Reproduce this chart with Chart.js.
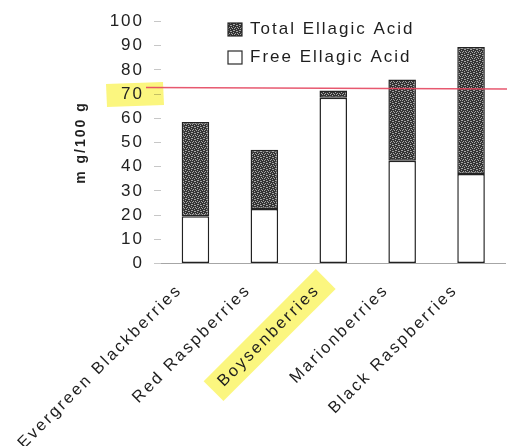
<!DOCTYPE html>
<html>
<head>
<meta charset="utf-8">
<script src="https://cdn.jsdelivr.net/npm/chart.js@4"></script>
<style>
  html, body { margin: 0; padding: 0; background: #fff; }
  #wrap { width: 507px; height: 446px; }
</style>
</head>
<body>
<div id="wrap"><canvas id="c"></canvas></div>
<script>
// Ellagic acid content of Pacific Northwest berries (mg per 100 g)
const berries = ['Evergreen Blackberries', 'Red Raspberries', 'Boysenberries', 'Marionberries', 'Black Raspberries'];
const totalEllagic = [58.5, 47, 71.5, 76, 89.5];
const freeEllagic = [19.5, 22.5, 68.5, 42.5, 37];
const yTickValues = [0, 10, 20, 30, 40, 50, 60, 70, 80, 90, 100];
const seriesNames = ['Total Ellagic Acid', 'Free Ellagic Acid'];
const axisTitle = 'm g/100 g';
const markedTick = 70;
const markedBerry = 'Boysenberries';
const referenceLevel = 72.5;

// bound part of the acid = total minus free, stacked on top of the free part
const boundEllagic = totalEllagic.map((t, i) => t - freeEllagic[i]);

const FONT = "'Liberation Sans', Arial, sans-serif";
const HIGHLIGHT = 'rgba(250, 244, 95, 0.8)';
const LABEL_FONT = '16.5px ' + FONT;
const LABEL_SPACING = '2.4px';
const canvas = document.getElementById('c');

function speckle(ctx) {
  const c = document.createElement('canvas');
  c.width = 6; c.height = 6;
  const g = c.getContext('2d');
  g.fillStyle = '#343434';
  g.fillRect(0, 0, 6, 6);
  g.fillStyle = '#a6a6a6';
  [[0, 0], [3, 1], [1, 3], [4, 4], [5, 2], [2, 5], [5, 0], [0, 4], [3, 3], [2, 1]]
    .forEach(([x, y]) => g.fillRect(x, y, 1, 1));
  return ctx.createPattern(c, 'repeat');
}
const greyFill = speckle(canvas.getContext('2d'));

const spacing = {
  id: 'spacing',
  beforeLayout(chart) { chart.ctx.letterSpacing = '2px'; },
  beforeDraw(chart) { chart.ctx.letterSpacing = '2px'; }
};

function labelAnchor(chart, i) {
  const x = chart.scales.x;
  return { x: x.getPixelForValue(i) - 16, y: x.top + 24 };
}

const highlights = {
  id: 'highlights',
  beforeDraw(chart) {
    const { ctx, scales } = chart;
    ctx.save();
    ctx.fillStyle = HIGHLIGHT;
    // marker behind the tick label
    const ty = scales.y.getPixelForValue(markedTick);
    ctx.beginPath();
    ctx.moveTo(106, ty - 10);
    ctx.lineTo(163, ty - 12);
    ctx.lineTo(164, ty + 11);
    ctx.lineTo(107, ty + 13);
    ctx.closePath();
    ctx.fill();
    // marker behind the category label
    const idx = berries.indexOf(markedBerry);
    const a = labelAnchor(chart, idx);
    ctx.font = LABEL_FONT;
    ctx.letterSpacing = LABEL_SPACING;
    const w = ctx.measureText(markedBerry).width;
    ctx.translate(a.x, a.y);
    ctx.rotate(-Math.PI / 4);
    ctx.fillRect(-w - 10, -14, w + 22, 28);
    ctx.restore();
  }
};

const refLine = {
  id: 'refLine',
  afterDatasetsDraw(chart) {
    const { ctx, scales, chartArea } = chart;
    const y = scales.y.getPixelForValue(referenceLevel);
    ctx.save();
    ctx.strokeStyle = 'rgba(228, 70, 95, 0.9)';
    ctx.lineWidth = 1.4;
    ctx.beginPath();
    ctx.moveTo(chartArea.left - 15, y - 0.5);
    ctx.lineTo(chart.width, y + 1);
    ctx.stroke();
    ctx.restore();
  }
};

const labelsAndKey = {
  id: 'labelsAndKey',
  afterDraw(chart) {
    const { ctx } = chart;
    ctx.save();
    ctx.fillStyle = '#1e1e1e';
    // rotated category labels
    ctx.font = LABEL_FONT;
    ctx.letterSpacing = LABEL_SPACING;
    ctx.textAlign = 'right';
    ctx.textBaseline = 'middle';
    berries.forEach((name, i) => {
      const a = labelAnchor(chart, i);
      ctx.save();
      ctx.translate(a.x, a.y);
      ctx.rotate(-Math.PI / 4);
      ctx.fillText(name, 0, 0);
      ctx.restore();
    });
    // key
    const fills = [greyFill, '#ffffff'];
    ctx.font = '17px ' + FONT;
    ctx.letterSpacing = '2px';
    ctx.textAlign = 'left';
    seriesNames.forEach((name, i) => {
      const y = 29.5 + i * 28;
      ctx.fillStyle = fills[i];
      ctx.fillRect(228, y - 6.5, 14, 13);
      ctx.strokeStyle = '#2a2a2a';
      ctx.lineWidth = 1.2;
      ctx.strokeRect(228, y - 6.5, 14, 13);
      ctx.fillStyle = '#1e1e1e';
      ctx.fillText(name, 250, y);
    });
    ctx.restore();
  }
};

new Chart(canvas, {
  type: 'bar',
  data: {
    labels: berries,
    datasets: [
      {
        label: seriesNames[1],
        data: freeEllagic,
        backgroundColor: '#ffffff',
        borderColor: '#222',
        borderWidth: 1.5,
        borderSkipped: false,
        barPercentage: 0.4,
        categoryPercentage: 1
      },
      {
        label: seriesNames[0],
        data: boundEllagic,
        backgroundColor: greyFill,
        borderColor: '#222',
        borderWidth: 1.5,
        borderSkipped: false,
        barPercentage: 0.4,
        categoryPercentage: 1
      }
    ]
  },
  options: {
    responsive: true,
    maintainAspectRatio: false,
    animation: false,
    layout: { padding: { top: 21.5, right: 1.5, left: 0, bottom: 0 } },
    plugins: { legend: { display: false }, tooltip: { enabled: false } },
    scales: {
      x: {
        stacked: true,
        ticks: { display: false },
        grid: { display: false },
        border: { display: true, color: 'rgba(0,0,0,0.35)', dash: [2, 3], width: 1 },
        afterFit(s) { s.height = 182.5; }
      },
      y: {
        stacked: true,
        min: 0,
        max: 100,
        afterBuildTicks(s) { s.ticks = yTickValues.map(v => ({ value: v })); },
        ticks: {
          color: '#222',
          font: { family: FONT, size: 17 },
          padding: 10
        },
        grid: {
          drawOnChartArea: false,
          drawTicks: true,
          tickLength: 7,
          color: 'rgba(0,0,0,0.22)'
        },
        border: { display: false },
        title: {
          display: true,
          text: axisTitle,
          color: '#222',
          font: { family: FONT, size: 14, weight: 'bold' },
          padding: { top: 72.5, bottom: 0 }
        },
        afterFit(s) { s.width = 161; }
      }
    }
  },
  plugins: [spacing, highlights, refLine, labelsAndKey]
});
</script>
</body>
</html>
